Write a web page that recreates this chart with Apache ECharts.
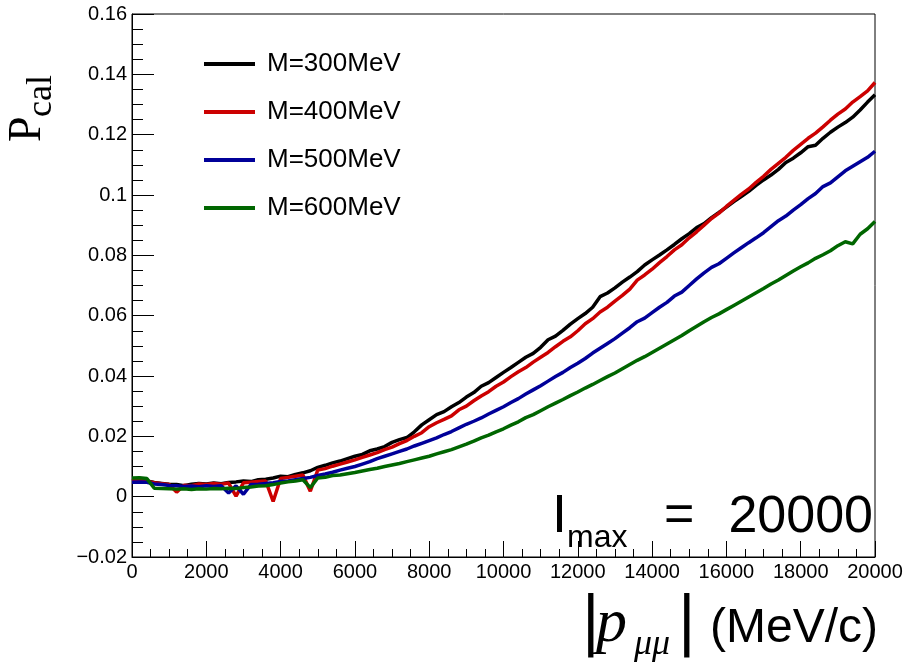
<!DOCTYPE html>
<html><head><meta charset="utf-8">
<script src="https://cdn.jsdelivr.net/npm/echarts@6/dist/echarts.min.js"></script>
<style>html,body{margin:0;padding:0;background:#fff}#c{width:904px;height:666px}</style>
</head><body><div id="c"></div>
<script>
const binWidth = 200; // MeV/c between successive points
const seriesNames = ['M=300MeV', 'M=400MeV', 'M=500MeV', 'M=600MeV'];
const seriesColors = ['#000000', '#cc0000', '#000099', '#006600'];
const m300 = [
 .0053,.0055,.0052,.0047,.0044,.0041,.0040,.0036,.0041,.0044,
 .0042,.0045,.0043,.0047,.0049,.0052,.0050,.0056,.0058,.0062,
 .0068,.0066,.0074,.0079,.0086,.0097,.0104,.0112,.0118,.0126,
 .0134,.0140,.0152,.0158,.0166,.0180,.0189,.0196,.0215,.0238,
 .0255,.0272,.0282,.0298,.0312,.0330,.0345,.0366,.0378,.0395,
 .0412,.0428,.0445,.0462,.0475,.0495,.0520,.0532,.0551,.0572,
 .0590,.0607,.0628,.0663,.0675,.0692,.0711,.0728,.0746,.0768,
 .0785,.0801,.0818,.0836,.0855,.0872,.0892,.0905,.0925,.0942,
 .0960,.0978,.0995,.1012,.1032,.1050,.1066,.1085,.1108,.1122,
 .1140,.1160,.1165,.1188,.1208,.1225,.1240,.1258,.1282,.1308,
 .1332];
const m400 = [
 .0054,.0055,.0050,.0046,.0043,.0040,.0015,.0038,.0036,.0042,
 .0040,.0044,.0041,.0045,.0002,.0046,.0048,.0050,.0052,-.0016,
 .0060,.0064,.0068,.0072,.0018,.0088,.0093,.0101,.0108,.0115,
 .0122,.0130,.0138,.0146,.0156,.0164,.0176,.0186,.0200,.0212,
 .0232,.0245,.0256,.0268,.0288,.0300,.0318,.0334,.0348,.0366,
 .0380,.0398,.0414,.0428,.0446,.0462,.0478,.0497,.0515,.0530,
 .0550,.0573,.0590,.0612,.0628,.0648,.0667,.0688,.0718,.0735,
 .0754,.0776,.0796,.0818,.0835,.0858,.0878,.0900,.0922,.0940,
 .0962,.0982,.1002,.1020,.1042,.1062,.1085,.1105,.1125,.1148,
 .1168,.1188,.1205,.1226,.1248,.1268,.1285,.1308,.1326,.1345,
 .1373];
const m500 = [
 .0048,.0049,.0048,.0042,.0040,.0037,.0036,.0034,.0035,.0033,
 .0036,.0034,.0036,.0012,.0036,.0008,.0040,.0041,.0044,.0046,
 .0050,.0052,.0056,.0060,.0064,.0070,.0075,.0081,.0088,.0094,
 .0100,.0108,.0116,.0126,.0134,.0142,.0150,.0158,.0168,.0177,
 .0186,.0195,.0206,.0216,.0228,.0240,.0250,.0261,.0274,.0286,
 .0298,.0312,.0325,.0340,.0354,.0368,.0383,.0398,.0412,.0428,
 .0442,.0458,.0476,.0492,.0508,.0524,.0542,.0560,.0580,.0592,
 .0610,.0628,.0644,.0665,.0678,.0700,.0722,.0742,.0760,.0772,
 .0790,.0808,.0825,.0842,.0858,.0875,.0895,.0915,.0930,.0950,
 .0968,.0988,.1005,.1028,.1040,.1060,.1080,.1095,.1110,.1125,
 .1145];
const m600 = [
 .0062,.0063,.0060,.0028,.0027,.0026,.0025,.0026,.0024,.0026,
 .0025,.0027,.0026,.0028,.0027,.0030,.0032,.0035,.0036,.0040,
 .0045,.0049,.0052,.0056,.0030,.0062,.0064,.0070,.0072,.0076,
 .0080,.0085,.0090,.0094,.0100,.0105,.0110,.0116,.0122,.0128,
 .0134,.0142,.0149,.0156,.0165,.0174,.0184,.0195,.0204,.0215,
 .0225,.0237,.0248,.0262,.0272,.0285,.0298,.0310,.0322,.0335,
 .0347,.0360,.0372,.0385,.0398,.0410,.0424,.0438,.0452,.0464,
 .0478,.0492,.0506,.0520,.0534,.0550,.0565,.0580,.0594,.0606,
 .0620,.0634,.0648,.0662,.0676,.0690,.0705,.0718,.0733,.0748,
 .0762,.0775,.0790,.0802,.0815,.0832,.0845,.0838,.0870,.0888,
 .0912];
const allSeries = [m300, m400, m500, m600];

const chart = echarts.init(document.getElementById('c'), null, {renderer: 'canvas'});
const FONT = 'Liberation Sans';
function toPoints(arr) { return arr.map((v, i) => [i * binWidth, v]); }
function fmtY(v) {
  const s = String(parseFloat(v.toFixed(4)));
  return s.replace('-', '\u2212');
}
function fmtX(v) { return String(Math.round(v)); }
const option = {
  animation: false,
  backgroundColor: '#fff',
  grid: {left: 132, right: 29, top: 14, bottom: 109, show: true, borderColor: '#000', borderWidth: 1,
         containLabel: false, outerBoundsMode: 'none'},
  legend: {
    orient: 'vertical', left: 199, top: 44, itemWidth: 51, itemHeight: 4, itemGap: 18,
    icon: 'rect',
    textStyle: {fontFamily: FONT, fontSize: 26, color: '#000', lineHeight: 30, padding: [0, 0, 0, 7]},
    data: seriesNames
  },
  xAxis: {
    type: 'value', min: 0, max: 20000, interval: 2000,
    axisLine: {onZero: false, lineStyle: {color: '#000', width: 1}},
    axisTick: {inside: true, length: 16, lineStyle: {color: '#000', width: 1}},
    minorTick: {show: true, splitNumber: 4, length: 8, lineStyle: {color: '#000', width: 1}},
    splitLine: {show: false},
    axisLabel: {fontFamily: FONT, fontSize: 20, color: '#000', margin: 5, formatter: fmtX}
  },
  yAxis: {
    type: 'value', min: -0.02, max: 0.16, interval: 0.02,
    axisLine: {onZero: false, lineStyle: {color: '#000', width: 1}},
    axisTick: {inside: true, length: 22, lineStyle: {color: '#000', width: 1}},
    minorTick: {show: true, splitNumber: 4, length: 11, lineStyle: {color: '#000', width: 1}},
    splitLine: {show: false},
    axisLabel: {fontFamily: FONT, fontSize: 20, color: '#000', margin: 5, formatter: fmtY}
  },
  series: allSeries.map((arr, k) => ({
    name: seriesNames[k], type: 'line', data: toPoints(arr),
    showSymbol: false, symbol: 'none',
    color: seriesColors[k],
    lineStyle: {width: 3.5, color: seriesColors[k]},
    z: 2 + k
  })),
  graphic: [
    {type: 'text', x: 28, y: 142, rotation: Math.PI / 2,
     style: {text: 'P', font: '46px "Liberation Serif"', fill: '#000', align: 'left', verticalAlign: 'middle'}},
    {type: 'text', x: 42, y: 117, rotation: Math.PI / 2,
     style: {text: 'cal', font: '36px "Liberation Serif"', fill: '#000', align: 'left', verticalAlign: 'middle'}},
    {type: 'text', x: 552, y: 517,
     style: {text: 'I', font: '54px "Liberation Sans"', fill: '#000', align: 'left', verticalAlign: 'middle'}},
    {type: 'text', x: 567, y: 538,
     style: {text: 'max', font: '32px "Liberation Sans"', fill: '#000', align: 'left', verticalAlign: 'middle'}},
    {type: 'text', x: 664, y: 517,
     style: {text: '=', font: '52px "Liberation Sans"', fill: '#000', align: 'left', verticalAlign: 'middle'}},
    {type: 'text', x: 873, y: 518,
     style: {text: '20000', font: '52px "Liberation Sans"', fill: '#000', align: 'right', verticalAlign: 'middle'}},
    {type: 'text', x: 580, y: 625,
     style: {text: '|', font: '64px "DejaVu Sans"', fill: '#000', align: 'left', verticalAlign: 'middle'}},
    {type: 'text', x: 596, y: 625,
     style: {text: 'p', font: 'italic 62px "Liberation Serif"', fill: '#000', align: 'left', verticalAlign: 'middle'}},
    {type: 'text', x: 634, y: 645,
     style: {text: 'μμ', font: 'italic 36px "Liberation Serif"', fill: '#000', align: 'left', verticalAlign: 'middle'}},
    {type: 'text', x: 676, y: 625,
     style: {text: '|', font: '64px "DejaVu Sans"', fill: '#000', align: 'left', verticalAlign: 'middle'}},
    {type: 'text', x: 878, y: 629,
     style: {text: '(MeV/c)', font: '48px "Liberation Sans"', fill: '#000', align: 'right', verticalAlign: 'middle'}}
  ]
};
chart.setOption(option);
</script>
</body></html>
